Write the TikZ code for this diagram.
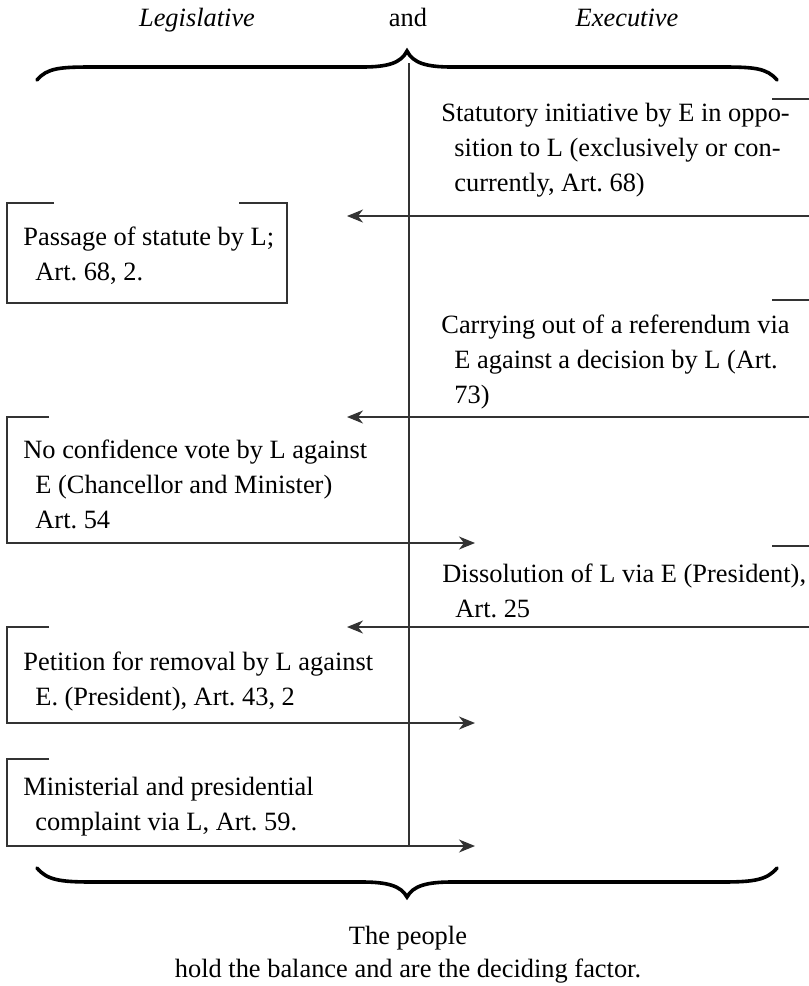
\documentclass[tikz,border=0pt]{standalone}
\usepackage{fontspec}
\setmainfont{Liberation Serif}
\usetikzlibrary{arrows.meta}
\frenchspacing

\begin{document}
\begin{tikzpicture}[x=0.5pt,y=-0.5pt,
  txt/.style={anchor=north west,align=left,inner sep=0pt,font=\fontsize{13.2}{17.5}\selectfont},
  ttl/.style={anchor=base,inner sep=0pt,font=\fontsize{13.2}{17.5}\selectfont},
  frame/.style={black!80,line width=0.6pt},
  arr/.style={frame,-{Stealth[length=8pt,width=6.5pt,inset=2.5pt]}},
  brace/.style={line width=1.8pt,line cap=round}]
  \useasboundingbox (0,0) rectangle (809,986);
  % headings
  \node[ttl] (leg) at (197,26) {\textit{Legislative}};
  \node[ttl] (and) at (408,26) {and};
  \node[ttl] (exe) at (627,26) {\textit{Executive}};
  % braces
  \draw[brace] (37,80) .. controls (47,68) and (60,67) .. (92,67) -- (362,67)
    .. controls (388,67) and (401,63) .. (407,51)
    .. controls (413,63) and (426,67) .. (452,67) -- (722,67)
    .. controls (754,67) and (767,68) .. (777,80);
  \draw[brace] (37,868) .. controls (47,880) and (60,882) .. (92,882) -- (362,882)
    .. controls (388,882) and (401,886) .. (407,897)
    .. controls (413,886) and (426,882) .. (452,882) -- (722,882)
    .. controls (754,882) and (767,880) .. (777,868);
  % middle line
  \coordinate (midtop) at (409,63);
  \coordinate (midbot) at (409,846);
  \draw[frame,line width=0.8pt] (midtop) -- (midbot);

  % executive side
  \node[txt] (init) at (441,96.5) {\strut Statutory initiative by E in oppo-\\
    \hspace*{6.5pt}sition to L (exclusively or con-\\
    \hspace*{6.5pt}currently, Art. 68)};
  \coordinate (init-a) at (809,216);
  \coordinate (init-b) at (347,216);
  \draw[frame] (772,99) -- (809,99);
  \draw[arr] (init-a) -- (init-b);

  \node[txt] (refe) at (441,308.5) {\strut Carrying out of a referendum via\\
    \hspace*{6.5pt}E against a decision by L (Art.\\
    \hspace*{6.5pt}73)};
  \coordinate (refe-a) at (809,417);
  \coordinate (refe-b) at (347,417);
  \draw[frame] (772,300) -- (809,300);
  \draw[arr] (refe-a) -- (refe-b);

  \node[txt] (diss) at (442,557.5) {\strut Dissolution of L via E (President),\\
    \hspace*{6.5pt}Art. 25};
  \coordinate (diss-a) at (809,627);
  \coordinate (diss-b) at (347,627);
  \draw[frame] (772,546) -- (809,546);
  \draw[arr] (diss-a) -- (diss-b);

  % legislative side
  \node[txt] (pass) at (23,220.5) {\strut Passage of statute by L;\\
    \hspace*{6pt}Art. 68, 2.};
  \draw[frame] (54,203) -| (7,303) -| (287,203) -- (239,203);

  \node[txt] (conf) at (23,433.5) {\strut No confidence vote by L against\\
    \hspace*{6pt}E (Chancellor and Minister)\\
    \hspace*{6pt}Art. 54};
  \coordinate (conf-a) at (49,417);
  \coordinate (conf-b) at (475,543);
  \draw[arr] (conf-a) -- (7,417) |- (conf-b);

  \node[txt] (peti) at (23,645.5) {\strut Petition for removal by L against\\
    \hspace*{6pt}E. (President), Art. 43, 2};
  \coordinate (peti-a) at (49,627);
  \coordinate (peti-b) at (475,723);
  \draw[arr] (peti-a) -- (7,627) |- (peti-b);

  \node[txt] (comp) at (23,770.5) {\strut Ministerial and presidential\\
    \hspace*{6pt}complaint via L, Art. 59.};
  \coordinate (comp-a) at (49,759);
  \coordinate (comp-b) at (475,846);
  \draw[arr] (comp-a) -- (7,759) |- (comp-b);

  % bottom
  \node[anchor=north,align=center,inner sep=0pt,font=\fontsize{13.2}{16.5}\selectfont]
    (people) at (408,920.5) {\strut The people\\hold the balance and are the deciding factor.};
\end{tikzpicture}
\end{document}
